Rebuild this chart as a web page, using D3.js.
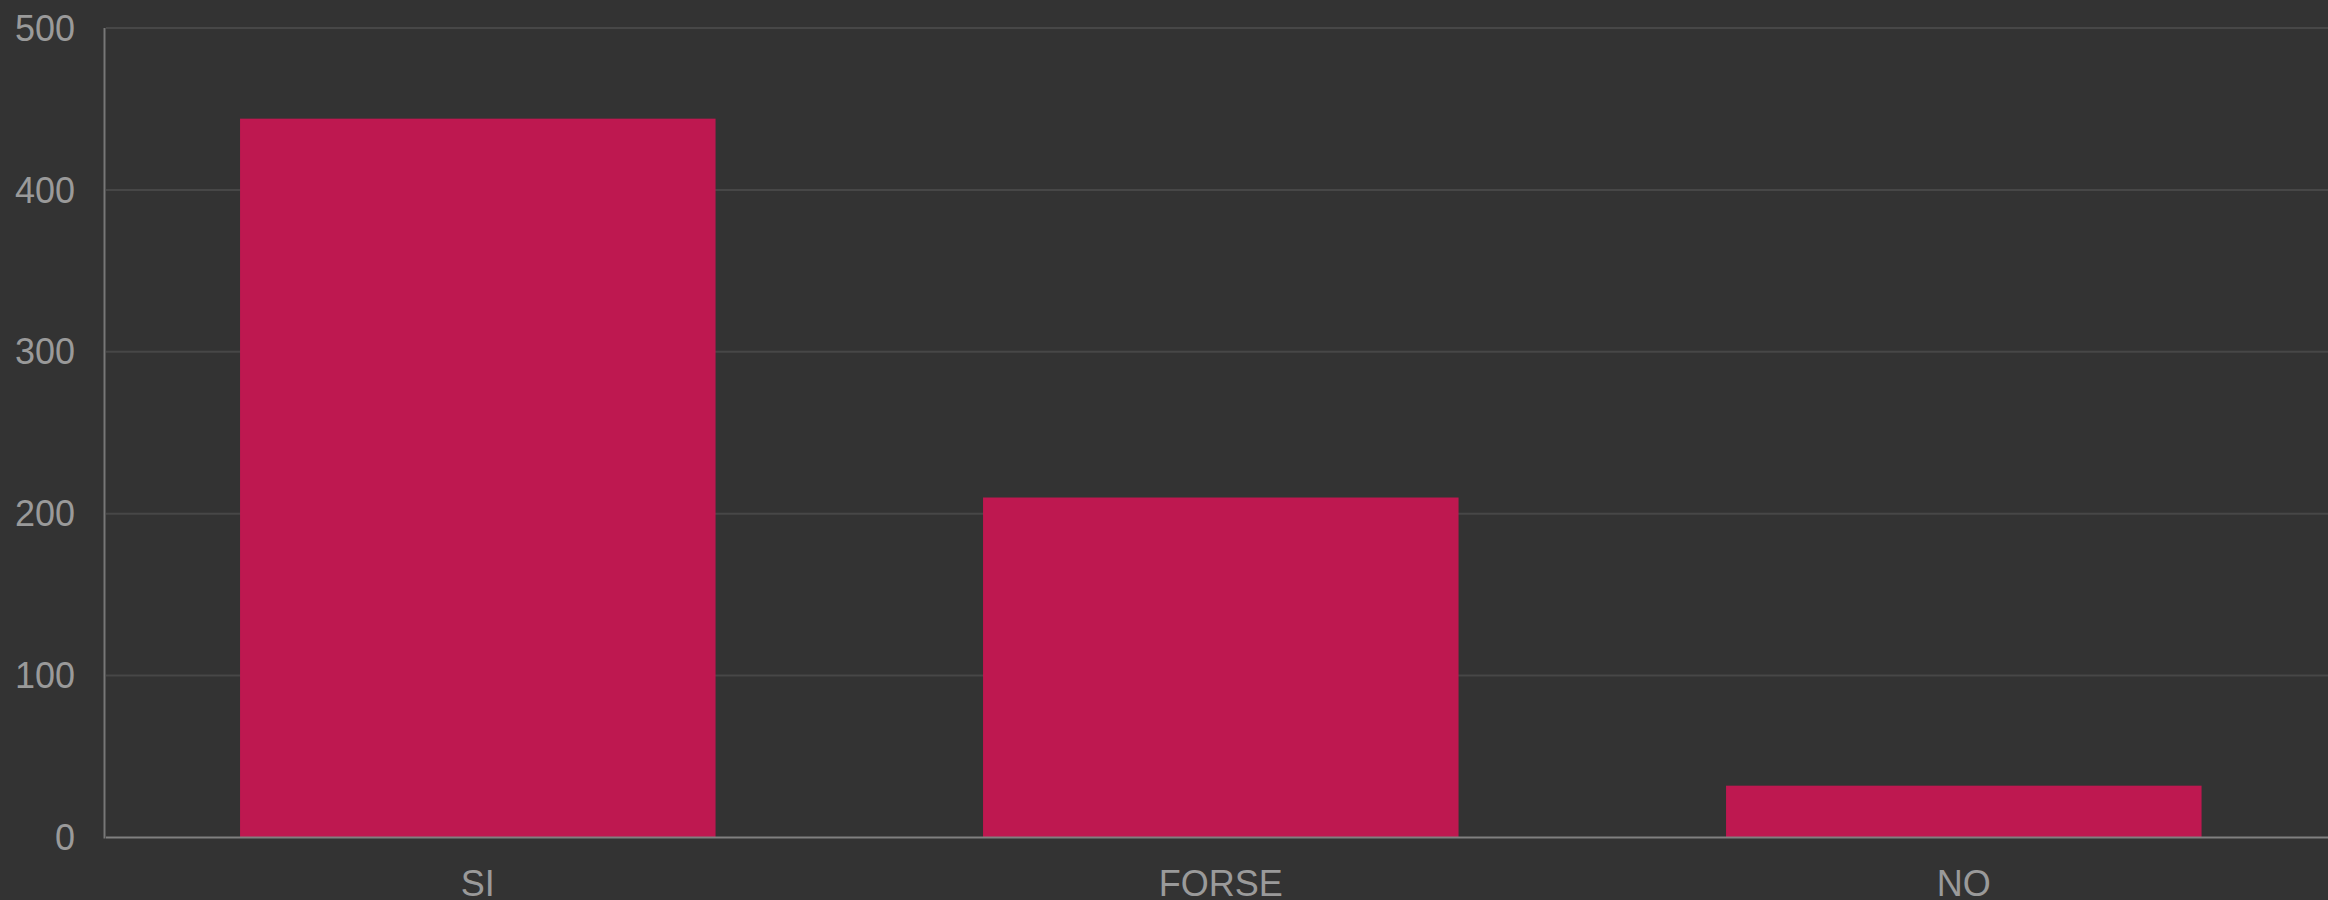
<!DOCTYPE html>
<html>
<head>
<meta charset="utf-8">
<script src="https://cdn.jsdelivr.net/npm/d3@7"></script>
<style>
  html, body { margin: 0; padding: 0; background: #333333; overflow: hidden; }
  svg { display: block; }
</style>
</head>
<body>
<div id="chart"></div>
<script>
const categories = ['SI', 'FORSE', 'NO'];
const values = [444, 210, 32];
const yTicks = [0, 100, 200, 300, 400, 500];

const width = 2328;
const height = 900;

// plot area (the category band runs a little past the right edge)
const margin = { left: 105, right: 2336, top: 28, bottom: 837.5 };

const svg = d3.select('#chart')
  .append('svg')
  .attr('width', width)
  .attr('height', height)
  .style('background', '#333333');

const x = d3.scaleBand()
  .domain(categories)
  .range([margin.left + 1.3, margin.left + 1.3 + 3 * 743])
  .paddingInner(0.36)
  .paddingOuter(0.18);

const y = d3.scaleLinear()
  .domain([0, 500])
  .range([margin.bottom, margin.top]);

// horizontal grid
svg.append('g')
  .selectAll('line')
  .data(yTicks.filter((d) => d > 0))
  .enter()
  .append('line')
    .attr('x1', margin.left + 1)
    .attr('x2', width)
    .attr('y1', (d) => y(d))
    .attr('y2', (d) => y(d))
    .attr('stroke', '#474747')
    .attr('stroke-width', 2);

// bars
svg.append('g')
  .selectAll('rect')
  .data(categories.map((c, i) => ({ name: c, value: values[i] })))
  .enter()
  .append('rect')
    .attr('x', (d) => x(d.name))
    .attr('width', x.bandwidth())
    .attr('y', (d) => y(d.value))
    .attr('height', (d) => y(0) - y(d.value))
    .attr('fill', '#be1850');

// axes lines
svg.append('line')
  .attr('x1', margin.left - 0.5).attr('x2', margin.left - 0.5)
  .attr('y1', margin.top).attr('y2', margin.bottom + 1)
  .attr('stroke', '#777777')
  .attr('stroke-width', 2);

svg.append('line')
  .attr('x1', margin.left + 1).attr('x2', width)
  .attr('y1', margin.bottom).attr('y2', margin.bottom)
  .attr('stroke', '#808080')
  .attr('stroke-width', 2);

// y labels
svg.append('g')
  .selectAll('text')
  .data(yTicks)
  .enter()
  .append('text')
    .attr('x', 75)
    .attr('y', (d) => y(d))
    .attr('dy', '0.35em')
    .attr('text-anchor', 'end')
    .attr('fill', '#9a9a9a')
    .style('font-family', '"Liberation Sans", Arial, sans-serif')
    .style('font-size', '36px')
    .text((d) => d);

// x labels
svg.append('g')
  .selectAll('text')
  .data(categories)
  .enter()
  .append('text')
    .attr('x', (d) => x(d) + x.bandwidth() / 2)
    .attr('y', 883)
    .attr('dy', '0.35em')
    .attr('text-anchor', 'middle')
    .attr('fill', '#9a9a9a')
    .style('font-family', '"Liberation Sans", Arial, sans-serif')
    .style('font-size', '36px')
    .text((d) => d);
</script>
</body>
</html>
